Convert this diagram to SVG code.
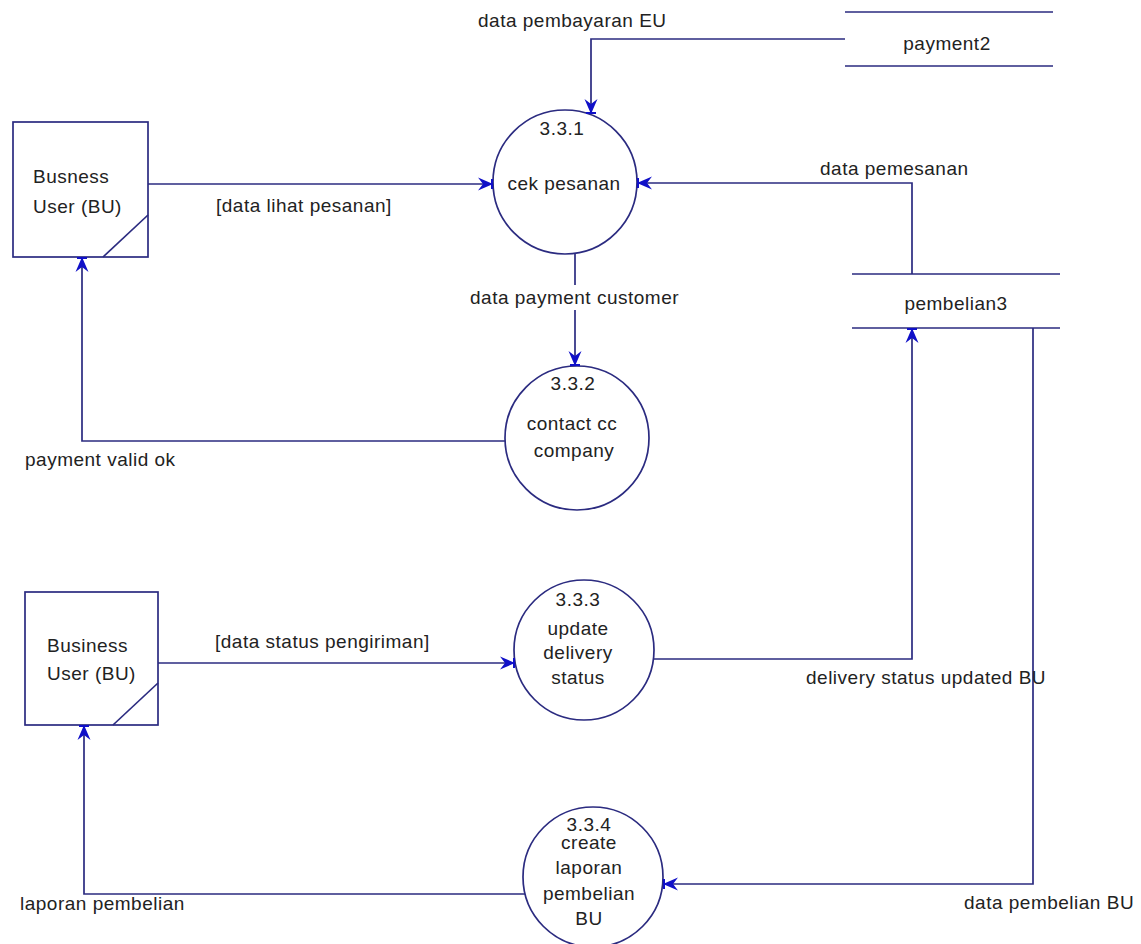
<svg xmlns="http://www.w3.org/2000/svg" width="1141" height="944" viewBox="0 0 1141 944">
<defs>
<marker id="arr" markerUnits="userSpaceOnUse" markerWidth="20" markerHeight="16" refX="17" refY="8" orient="auto">
<path d="M2,1.5 L17,8 L2,14.5 L7,8 Z" fill="#1010c8"/>
<path d="M16,3 L16,13" stroke="#1010c8" stroke-width="2"/>
</marker>
<style>
.ln{fill:none;stroke:#2b2b80;stroke-width:1.7}
.nd{fill:#ffffff;stroke:#2b2b80;stroke-width:1.7}
.tx{font-family:"Liberation Sans",Arial,sans-serif;font-size:19px;letter-spacing:0.5px;fill:#222222}
.c{text-anchor:middle}
.fl{fill:none;stroke:#2b2b80;stroke-width:1.7;marker-end:url(#arr)}
</style>
</defs>
<rect width="1141" height="944" fill="#ffffff"/>

<g id="bu1">
<rect class="nd" x="13" y="122" width="135" height="135"/>
<path class="ln" d="M148,215 L103,257"/>
<text class="tx" x="33" y="183">Busness</text>
<text class="tx" x="33" y="213">User (BU)</text>
</g>

<g id="bu2">
<rect class="nd" x="25" y="592" width="133" height="133"/>
<path class="ln" d="M158,683 L113,725"/>
<text class="tx" x="47" y="652">Business</text>
<text class="tx" x="47" y="680">User (BU)</text>
</g>

<g id="payment2">
<path class="ln" d="M845,12 H1053 M845,66 H1053"/>
<text class="tx c" x="947" y="50">payment2</text>
</g>

<g id="pembelian3">
<path class="ln" d="M852,274 H1060 M852,328 H1060"/>
<text class="tx c" x="956" y="310">pembelian3</text>
</g>

<g id="p331">
<circle class="nd" cx="565" cy="182" r="72"/>
<text class="tx c" x="562" y="135">3.3.1</text>
<text class="tx c" x="564" y="190">cek pesanan</text>
</g>

<g id="p332">
<circle class="nd" cx="577" cy="438" r="72"/>
<text class="tx c" x="573" y="390">3.3.2</text>
<text class="tx c" x="572" y="430">contact cc</text>
<text class="tx c" x="574" y="457">company</text>
</g>

<g id="p333">
<circle class="nd" cx="584" cy="650" r="70"/>
<text class="tx c" x="578" y="606">3.3.3</text>
<text class="tx c" x="578" y="635">update</text>
<text class="tx c" x="578" y="659">delivery</text>
<text class="tx c" x="578" y="684">status</text>
</g>

<g id="p334">
<circle class="nd" cx="593" cy="877" r="70"/>
<text class="tx c" x="589" y="831">3.3.4</text>
<text class="tx c" x="589" y="849">create</text>
<text class="tx c" x="589" y="874">laporan</text>
<text class="tx c" x="589" y="900">pembelian</text>
<text class="tx c" x="589" y="925">BU</text>
</g>

<g id="connectors">
<path class="fl" d="M845,39 H591 V114"/>
<path class="fl" d="M148,184 H493"/>
<path class="fl" d="M912,274 V183 H637"/>
<path class="ln" d="M575,254 V285"/>
<path class="fl" d="M575,310 V366"/>
<path class="fl" d="M505,441 H82 V257"/>
<path class="fl" d="M158,663 H515"/>
<path class="fl" d="M653,659 H912 V328"/>
<path class="fl" d="M1033,328 V884 H663"/>
<path class="fl" d="M525,894 H84 V725"/>
<text class="tx" x="478" y="27">data pembayaran EU</text>
<text class="tx" x="216" y="212">[data lihat pesanan]</text>
<text class="tx" x="820" y="175">data pemesanan</text>
<text class="tx" x="470" y="304">data payment customer</text>
<text class="tx" x="25" y="466">payment valid ok</text>
<text class="tx" x="215" y="648">[data status pengiriman]</text>
<text class="tx" x="806" y="684">delivery status updated BU</text>
<text class="tx" x="964" y="909">data pembelian BU</text>
<text class="tx" x="20" y="910">laporan pembelian</text>
</g>
</svg>
